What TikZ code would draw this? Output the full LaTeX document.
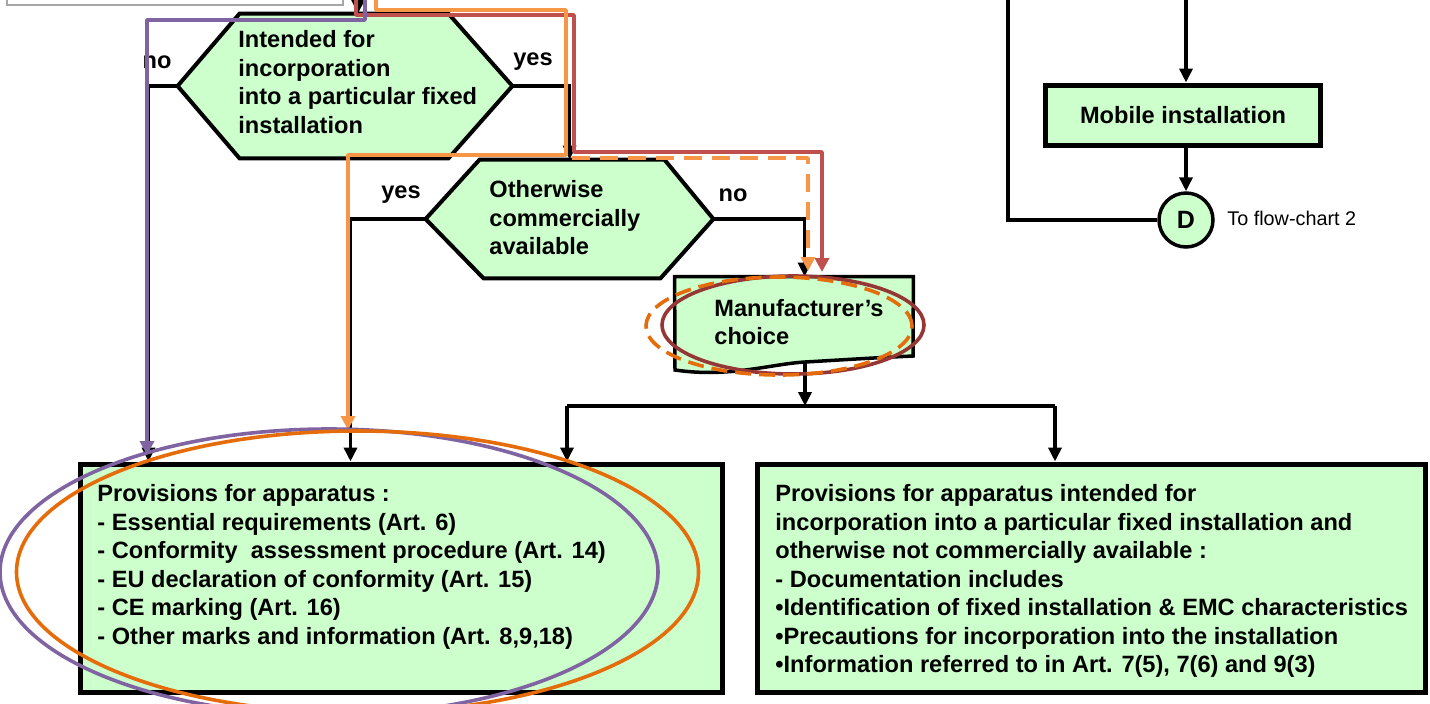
\documentclass[tikz,border=0pt]{standalone}
\usepackage{fontspec}
\setmainfont{Liberation Sans}
\usetikzlibrary{arrows.meta}
\definecolor{lgreen}{HTML}{CCFFCC}
\definecolor{cpurple}{HTML}{8064A2}
\definecolor{cred}{HTML}{C0504D}
\definecolor{corange}{HTML}{F79646}
\definecolor{eorange}{HTML}{E46C0A}
\definecolor{ered}{HTML}{953735}
\begin{document}
\begin{tikzpicture}[x=0.5pt,y=-0.5pt,
  conn/.style={line width=1.75pt,-{Triangle[length=7pt,width=6.5pt]}},
  plainline/.style={line width=1.75pt},
  boxstyle/.style={draw,line width=2.5pt,fill=lgreen,inner sep=0pt},
  shapebody/.style={inner sep=0pt},
  hexline/.style={draw,line width=2pt,fill=lgreen,line join=miter},
  txt/.style={font=\fontsize{11.8}{14.25}\selectfont\bfseries,align=left,inner sep=0pt,anchor=west},
  lbl/.style={font=\fontsize{11.8}{14.25}\selectfont\bfseries,inner sep=0pt},
  hilite/.style={line width=1.9pt,line join=round,-{Triangle[length=7pt,width=7pt]}},
  ringline/.style={line width=1.8pt}
]
\useasboundingbox (0,0) rectangle (1430,703);
\clip (0,0) rectangle (1430,703);

% top cut-off box
\node[draw=black!35,line width=1pt,fill=white,minimum width=168pt,minimum height=20pt,inner sep=0pt] (topbox) at (175,-15) {};
\coordinate (topin) at (358,0);

% hexagon 1
\node[shapebody,minimum width=167pt,minimum height=72pt] (h1) at (345,86) {};
\path[hexline] (h1.west) -- ([xshift=31pt]h1.north west) -- ([xshift=-32pt]h1.north east) -- (h1.east)
  -- ([xshift=-32pt]h1.south east) -- ([xshift=31pt]h1.south west) -- cycle;
\node[txt] (h1t) at (238,82) {Intended for\\incorporation\\into a particular fixed\\installation};
\node[lbl] (h1no) at (157,62) {no};
\node[lbl] (h1yes) at (533,62) {yes};

% hexagon 2
\node[shapebody,minimum width=143.5pt,minimum height=59pt] (h2) at (569.5,219) {};
\path[hexline] (h2.west) -- ([xshift=27pt]h2.north west) -- ([xshift=-24.5pt]h2.north east) -- (h2.east)
  -- ([xshift=-26.5pt]h2.south east) -- ([xshift=29pt]h2.south west) -- cycle;
\node[txt] (h2t) at (489,218) {Otherwise\\commercially\\available};
\node[lbl] (h2yes) at (401,195) {yes};
\node[lbl] (h2no) at (733,195) {no};

% manufacturer's choice (document shape)
\node[shapebody,minimum width=119pt,minimum height=46.5pt] (mc) at (794,323.5) {};
\path[draw,line width=1.75pt,fill=lgreen] (mc.north west) -- (mc.north east) -- (913,356)
  .. controls (870,358) and (840,360) .. (805,362)
  .. controls (770,364) and (730,378) .. (675,370) -- cycle;
\node[txt] (mct) at (714,322) {Manufacturer's\\choice};

% provisions boxes
\node[boxstyle,minimum width=321pt,minimum height=114pt] (box1) at (401,578) {};
\node[txt] (box1t) at (97,567) {Provisions for apparatus :\\- Essential requirements (Art. 6)\\- Conformity\ \ assessment procedure (Art. 14)\\- EU declaration of conformity (Art. 15)\\- CE marking (Art. 16)\\- Other marks and information (Art. 8,9,18)};
\node[boxstyle,minimum width=334pt,minimum height=114pt] (box2) at (1091,578) {};
\node[txt] (box2t) at (775,581) {Provisions for apparatus intended for\\incorporation into a particular fixed installation and\\otherwise not commercially available :\\- Documentation includes\\\textbullet Identification of fixed installation \& EMC characteristics\\\textbullet Precautions for incorporation into the installation\\\textbullet Information referred to in Art. 7(5), 7(6) and 9(3)};

% right side
\node[boxstyle,minimum width=137.5pt,minimum height=30pt] (mob) at (1183,115) {};
\node[lbl] (mobt) at (1183,115) {Mobile installation};
\node[draw,circle,line width=1.75pt,fill=lgreen,minimum size=27pt,inner sep=0pt,font=\fontsize{12.5}{14}\selectfont\bfseries] (dc) at (1186,220) {D};
\node[anchor=west,inner sep=0pt,font=\fontsize{9.9}{12}\selectfont] (dct) at (1227,218) {To flow-chart 2};
\coordinate (mobin) at (1186,0);
\coordinate (leftin) at (1008,0);

% black connectors
\draw[conn] (topin) -- (topin |- h1.north);
\draw[conn] (h1.west) -| ([xshift=35.5pt]box1.north west);
\draw[conn] (h1.east) -| ([xshift=72pt]h2.north west);
\draw[conn] (h2.west) -| ([xshift=136.5pt]box1.north west);
\draw[conn] (h2.east) -| ([xshift=65pt]mc.north west);
\coordinate (split) at (805,406);
\coordinate (sl) at (567,406);
\coordinate (sr) at (1055,406);
\draw[conn] ([yshift=4pt]split |- mc.south) -- (split);
\draw[plainline] (sl) -- (sr);
\draw[conn] (sl) -- (sl |- box1.north);
\draw[conn] (sr) -- (sr |- box2.north);
\draw[conn] (mobin) -- (mobin |- mob.north);
\draw[conn] (dc.north |- mob.south) -- (dc.north);
\draw[plainline] (leftin) |- (dc.west);

% highlight paths
\draw[hilite,draw=cred] (356,0) -- (356,15) -- (574,15) -- (574,152) -- (822,152) -- (822,272);
\draw[hilite,draw=corange] (376,0) -- (376,10) -- (566,10) -- (566,155) -- (348,155) -- (348,430);
\draw[hilite,draw=corange,dash pattern=on 9pt off 5pt] (572,158) -- (808,158) -- (808,271);
\draw[hilite,draw=cpurple] (365,0) -- (365,20) -- (147,20) -- (147,455);

% ellipses
\draw[ringline,draw=cpurple] (329,572) ellipse [x radius=164.5pt,y radius=71.5pt];
\draw[ringline,draw=eorange] (357.5,572) ellipse [x radius=170.5pt,y radius=70.5pt];
\draw[ringline,draw=ered] (793,325) ellipse [x radius=65.5pt,y radius=24.5pt];
\draw[ringline,draw=eorange,dash pattern=on 8pt off 4pt] (779,326) ellipse [x radius=66.5pt,y radius=24.5pt];
\end{tikzpicture}
\end{document}
